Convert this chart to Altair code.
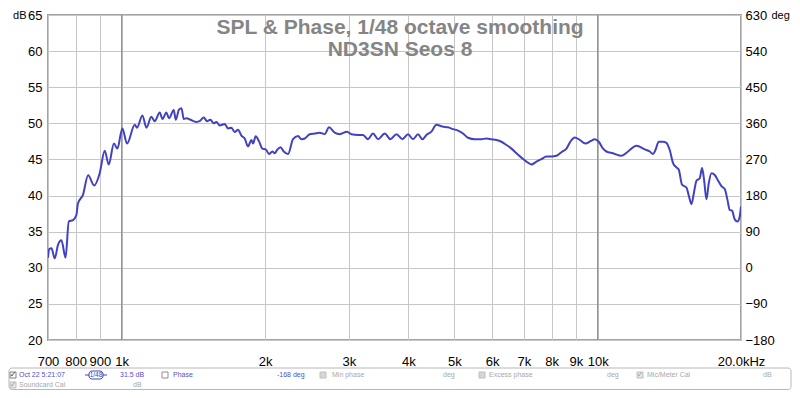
import altair as alt
import pandas as pd

# ---------------- data ----------------
FREQ_HZ = [700, 704, 712, 723, 735, 747, 762, 774, 790, 803,
           809, 829, 850, 875, 899, 921, 939, 963, 979, 1003,
           1026, 1065, 1077, 1105, 1127, 1154, 1173, 1202, 1218, 1241,
           1257, 1286, 1299, 1319, 1335, 1350, 1368, 1394, 1435, 1458,
           1487, 1511, 1536, 1560, 1581, 1607, 1646, 1672, 1700, 1727,
           1755, 1784, 1813, 1842, 1873, 1887, 1912, 1943, 1975, 2007,
           2039, 2073, 2096, 2120, 2155, 2190, 2236, 2290, 2346, 2385,
           2424, 2483, 2544, 2606, 2670, 2726, 2802, 2871, 2974, 3038,
           3137, 3213, 3292, 3372, 3455, 3569, 3669, 3777, 3888, 3995,
           4092, 4193, 4283, 4367, 4473, 4583, 4718, 4847, 4966, 5088,
           5212, 5340, 5516, 5698, 5837, 5980, 6127, 6277, 6431, 6588,
           6749, 6914, 7084, 7257, 7435, 7617, 7804, 7995, 8190, 8390,
           8596, 8777, 8948, 9167, 9423, 9668, 9857, 10049, 10260, 10431,
           10769, 11216, 11580, 12060, 12554, 12862, 13068, 13221, 13434, 13716,
           13943, 14168, 14397, 14635, 14798, 15037, 15361, 15555, 15737, 15937,
           16123, 16383, 16566, 16726, 16923, 17112, 17336, 17616, 17959, 18196,
           18489, 18731, 18940, 19153, 19404, 19659, 19878, 20000]

SPL_DB = [31.4, 32.6, 32.7, 31.3, 33.2, 33.8, 31.4, 36.4, 36.6, 37.3,
          38.9, 40.1, 42.8, 41.4, 43.1, 46.2, 44.3, 47.2, 46.5, 49.3,
          47.2, 49.8, 49.4, 51.1, 49.4, 50.9, 50.3, 51.5, 50.6, 51.5,
          50.7, 51.85, 50.5, 51.9, 52.1, 50.6, 50.7, 50.5, 50.2, 50.3,
          50.8, 50.3, 50.5, 50.0, 50.2, 49.7, 49.9, 49.3, 49.4, 48.8,
          49.1, 48.3, 47.9, 46.8, 47.7, 47.2, 48.2, 47.5, 46.5, 46.4,
          45.75, 46.1, 45.85, 46.3, 46.7, 46.1, 45.75, 47.8, 48.25, 47.8,
          47.9, 48.5, 48.6, 48.7, 48.5, 49.45, 48.7, 48.5, 48.85, 48.5,
          48.4, 48.4, 47.8, 48.6, 47.8, 48.6, 47.8, 48.5, 47.8, 48.5,
          47.8, 48.5, 47.8, 48.4, 48.85, 49.8, 49.55, 49.45, 49.2, 49.0,
          48.6, 48.0, 47.8, 47.8, 47.9, 47.8, 47.7, 47.45, 47.0, 46.5,
          45.85, 45.25, 44.7, 44.3, 44.7, 45.05, 45.4, 45.4, 45.5, 46.0,
          46.5, 47.55, 48.05, 47.7, 47.2, 47.55, 47.8, 47.45, 46.5, 46.1,
          45.85, 45.5, 46.1, 46.9, 46.4, 46.1, 45.75, 46.3, 47.45, 47.45,
          47.3, 46.3, 44.5, 43.9, 43.6, 41.5, 41.1, 39.85, 38.8, 40.5,
          42.05, 42.4, 43.8, 42.2, 39.5, 41.7, 43.1, 42.85, 41.9, 41.3,
          40.9, 39.4, 38.0, 37.9, 36.7, 36.4, 37.1, 38.5]

X_TICKS = [700, 800, 900, 1000, 2000, 3000, 4000, 5000, 6000, 7000, 8000, 9000, 10000, 20000]
X_TICK_LABELS = ["700", "800", "900", "1k", "2k", "3k", "4k", "5k", "6k", "7k", "8k", "9k", "10k", "20.0kHz"]
DB_TICKS = [20, 25, 30, 35, 40, 45, 50, 55, 60, 65]
DEG_TICKS = [-180, -90, 0, 90, 180, 270, 360, 450, 540, 630]
DECADE_LINES = [1000, 10000]
TITLE_LINES = ["SPL & Phase, 1/48 octave smoothing", "ND3SN Seos 8"]

W, H = 693, 325
FONT = "Liberation Sans"
LINE_COLOR = "#4242c0"
GRID = "#c6c6c6"
BLUE_TXT = "#5050cc"
GRAY_TXT = "#a8a8a8"

spl = pd.DataFrame({"freq": FREQ_HZ, "spl": SPL_DB})
one = pd.DataFrame({"k": [0]})

label_expr = " : ".join(
    f"datum.value == {v} ? '{t}'" for v, t in zip(X_TICKS, X_TICK_LABELS)
) + " : ''"

x_scale = alt.Scale(type="log", domain=[700, 20000], nice=False)
x_axis = alt.Axis(values=X_TICKS, labelExpr=label_expr, grid=True, gridColor=GRID,
                  ticks=False, tickSize=0, domain=False, labelFont=FONT, labelFontSize=13,
                  labelColor="#000000", labelPadding=15, labelOverlap=False,
                  labelFlush=False, title=None)
y_axis = alt.Axis(values=DB_TICKS, grid=True, gridColor=GRID, ticks=False, tickSize=0,
                  domain=False, labelFont=FONT, labelFontSize=13, labelColor="#000000",
                  labelPadding=6, title="dB", titleAngle=0, titleX=-22, titleY=0,
                  titleAlign="right", titleBaseline="middle", titleFont=FONT,
                  titleFontSize=11, titleFontWeight="normal", titleColor="#000000")
deg_axis = alt.Axis(values=DEG_TICKS, orient="right", grid=False, ticks=False, tickSize=0,
                    domain=False, labelFont=FONT, labelFontSize=13, labelColor="#000000",
                    labelPadding=4, title="deg", titleAngle=0, titleX=30, titleY=0,
                    titleAlign="left", titleBaseline="middle", titleFont=FONT,
                    titleFontSize=11, titleFontWeight="normal", titleColor="#000000")

decades = alt.Chart(pd.DataFrame({"freq": DECADE_LINES})).mark_rule(
    color="#7a7a7a", strokeWidth=1
).encode(x=alt.X("freq:Q", scale=x_scale, axis=x_axis))

line = alt.Chart(spl).mark_line(
    color=LINE_COLOR, strokeWidth=2, interpolate="monotone", clip=True
).encode(
    x=alt.X("freq:Q", scale=x_scale, axis=x_axis),
    y=alt.Y("spl:Q", scale=alt.Scale(domain=[20, 65], nice=False, zero=False), axis=y_axis),
)

phase_axis = alt.Chart(pd.DataFrame({"deg": DEG_TICKS})).mark_point(opacity=0).encode(
    y=alt.Y("deg:Q", scale=alt.Scale(domain=[-180, 630], nice=False, zero=False), axis=deg_axis)
)


def text(t, x, y, size=7, color=GRAY_TXT, align="left", weight="normal",
         baseline="middle", font=FONT):
    return alt.Chart(one).mark_text(
        text=t, align=align, baseline=baseline, fontSize=size, color=color,
        fontWeight=weight, font=font
    ).encode(x=alt.value(x), y=alt.value(y))


def box(x1, x2, y1, y2, fill="white", stroke="#a0a0a0", radius=0, width=1):
    return alt.Chart(one).mark_rect(
        fill=fill, stroke=stroke, strokeWidth=width, cornerRadius=radius
    ).encode(x=alt.value(x1), x2=alt.value(x2), y=alt.value(y1), y2=alt.value(y2))


def seg(x1, x2, y, color):
    return alt.Chart(one).mark_rule(color=color, strokeWidth=1).encode(
        x=alt.value(x1), x2=alt.value(x2), y=alt.value(y))


title1 = text(TITLE_LINES[0], 352, 18.5, size=21, color="#858585", align="center",
              weight="bold", baseline="alphabetic")
title2 = text(TITLE_LINES[1], 352, 40.5, size=21, color="#858585", align="center",
              weight="bold", baseline="alphabetic")

# ---- status / legend strip below the plot (plot coords: page x-48, page y-15) ----
r1, r2 = 360, 370
legend_parts = [
    box(-39, 743, 353, 374.5, fill="white", stroke="#b8b8b8", radius=3),
    # row 1
    box(-38, -32, r1 - 3, r1 + 3, fill="white", stroke="#808080"),
    text("\u2713", -35, r1, size=8, color="#303030", align="center", font="DejaVu Sans"),
    text("Oct 22 5:21:07", -29, r1, color=BLUE_TXT),
    seg(37, 41, r1, LINE_COLOR),
    seg(55, 59, r1, LINE_COLOR),
    box(41, 55, r1 - 4, r1 + 4, fill="white", stroke=LINE_COLOR, radius=3),
    text("1/48", 48, r1, size=6.5, color=LINE_COLOR, align="center"),
    text("31.5 dB", 72, r1, color=BLUE_TXT),
    box(114, 120, r1 - 3, r1 + 3, fill="white", stroke="#909090"),
    text("Phase", 125, r1, color=BLUE_TXT),
    text("-168 deg", 229, r1, color=BLUE_TXT),
    box(272, 278, r1 - 3, r1 + 3, fill="#d6d6d6", stroke="#c0c0c0"),
    text("Min phase", 284, r1),
    text("deg", 395, r1),
    box(431, 437, r1 - 3, r1 + 3, fill="#d6d6d6", stroke="#c0c0c0"),
    text("Excess phase", 441, r1),
    text("deg", 559, r1),
    box(589, 595, r1 - 3, r1 + 3, fill="#e4e4e4", stroke="#c0c0c0"),
    text("\u2713", 592, r1, size=8, color="#a0a0a0", align="center", font="DejaVu Sans"),
    text("Mic/Meter Cal", 599, r1),
    text("dB", 715, r1),
    # row 2
    box(-38, -32, r2 - 3, r2 + 3, fill="#e4e4e4", stroke="#c0c0c0"),
    text("\u2713", -35, r2, size=8, color="#a0a0a0", align="center", font="DejaVu Sans"),
    text("Soundcard Cal", -29, r2),
    text("dB", 85, r2),
]

chart = alt.layer(
    decades, line, phase_axis, title1, title2, *legend_parts
).resolve_scale(
    y="independent"
).properties(
    width=W, height=H,
    autosize=alt.AutoSizeParams(type="none"),
    padding={"left": 40, "top": 7, "right": 51, "bottom": 50},
    background="white",
).configure_view(
    stroke="#a4a4a4", strokeWidth=2
)

chart.save("out.html", embed_options={"renderer": "svg", "actions": False})
